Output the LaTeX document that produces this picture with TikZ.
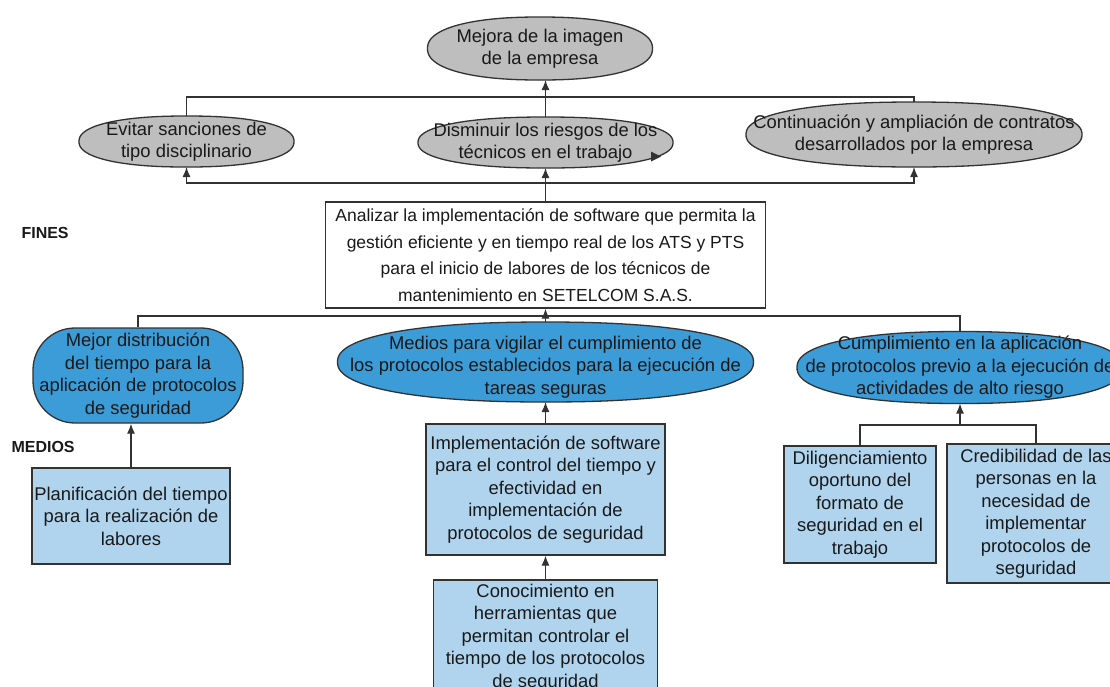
\documentclass[tikz,border=0pt]{standalone}
\usepackage{fontspec}
\setmainfont{Liberation Sans}
\usepackage{tikz}
\usetikzlibrary{arrows.meta}

\definecolor{borde}{RGB}{50,50,50}
\definecolor{tinta}{RGB}{25,25,25}
\definecolor{gris}{RGB}{190,190,190}
\definecolor{azul}{RGB}{60,156,216}
\definecolor{celeste}{RGB}{176,212,238}

% ovalo achatado: centro x, centro y, semiancho, semialto, relleno
\newcommand{\ovalo}[5]{%
  \filldraw[fill=#5,draw=borde,line width=1.3pt]
    plot[domain=0.5:360.5,samples=121]
    ({#1+#3*sign(cos(\x))*abs(cos(\x))^0.88},{#2+#4*sign(sin(\x))*abs(sin(\x))^0.88}) -- cycle;}

\tikzset{
  texto/.style={align=center,text=tinta,font=\fontsize{18.4}{22.5}\selectfont},
  hueco/.style={inner sep=0pt,outer sep=0pt},
  causa/.style={rectangle,draw=borde,fill=celeste,line width=1.3pt,texto,inner sep=2pt},
  union/.style={draw=borde,line width=1.3pt},
  flecha/.style={union,-{Latex[length=10pt,width=8pt]}},
  titulo/.style={anchor=west,text=tinta,font=\bfseries\fontsize{16}{18}\selectfont}
}

\begin{document}
\begin{tikzpicture}[x=1pt,y=-1pt]
  \fill[white] (0,0) rectangle (1110,686);
  \clip (0,0) rectangle (1110,686);

  % fines
  \ovalo{540}{48.5}{112.5}{31.5}{gris}
  \node[hueco,minimum width=225pt,minimum height=63pt,
    label={[texto]center:Mejora de la imagen\\de la empresa}] (mejora) at (540,48.5) {};
  \ovalo{186.5}{141.5}{107.5}{25.5}{gris}
  \node[hueco,minimum width=215pt,minimum height=51pt,
    label={[texto]center:Evitar sanciones de\\tipo disciplinario}] (evitar) at (186.5,141.5) {};
  \ovalo{545.5}{142.5}{127.5}{25.5}{gris}
  \node[hueco,minimum width=255pt,minimum height=51pt,
    label={[texto]center:Disminuir los riesgos de los\\técnicos en el trabajo}] (dism) at (545.5,142.5) {};
  \ovalo{914}{134.5}{168}{32.5}{gris}
  \node[hueco,minimum width=336pt,minimum height=65pt,
    label={[texto]center:Continuación y ampliación de contratos\\desarrollados por la empresa}] (cont) at (914,134.5) {};
  \fill[borde] (651,151.5) -- (661,156.5) -- (651,161.5) -- cycle;

  \node[titulo] (fines) at (18,233) {FINES};

  % problema central
  \node[draw=borde,fill=white,line width=1.3pt,texto,font=\fontsize{17.5}{26.5}\selectfont,
    minimum width=440pt,minimum height=106pt] (analisis) at (545.5,255)
    {Analizar la implementación de software que permita la\\gestión eficiente y en tiempo real de los ATS y PTS\\para el inicio de labores de los técnicos de\\mantenimiento en SETELCOM S.A.S.};

  % medios
  \node[draw=borde,fill=azul,line width=1.3pt,rounded corners=42pt,texto,
    minimum width=210pt,minimum height=95pt] (mejor) at (138,375.5)
    {Mejor distribución\\del tiempo para la\\aplicación de protocolos\\de seguridad};
  \ovalo{545.5}{362}{208}{40}{azul}
  \node[hueco,minimum width=416pt,minimum height=80pt,
    label={[texto,yshift=-5pt]center:Medios para vigilar el cumplimiento de\\los protocolos establecidos para la ejecución de\\tareas seguras}] (medios) at (545.5,362) {};
  \ovalo{960}{367.5}{163}{36}{azul}
  \node[hueco,minimum width=326pt,minimum height=72pt,
    label={[texto]center:Cumplimiento en la aplicación\\de protocolos previo a la ejecución de\\actividades de alto riesgo}] (cump) at (960,367.5) {};

  \node[titulo] (medtit) at (8,447) {MEDIOS};

  \node[causa,minimum width=198pt,minimum height=96pt] (plan) at (131,516)
    {Planificación del tiempo\\para la realización de\\labores};
  \node[causa,minimum width=239pt,minimum height=131pt] (impl) at (545.5,489.5)
    {Implementación de software\\para el control del tiempo y\\efectividad en\\implementación de\\protocolos de seguridad};
  \node[causa,minimum width=224pt,minimum height=115pt] (cono) at (545.5,637.5)
    {Conocimiento en\\herramientas que\\permitan controlar el\\tiempo de los protocolos\\de seguridad};
  \node[causa,minimum width=152pt,minimum height=117pt] (dili) at (860,504.5)
    {Diligenciamiento\\oportuno del\\formato de\\seguridad en el\\trabajo};
  \node[causa,minimum width=178pt,minimum height=139pt] (cred) at (1036,513.5)
    {Credibilidad de las\\personas en la\\necesidad de\\implementar\\protocolos de\\seguridad};

  % conectores de arriba
  \coordinate (sup) at (545.5,97);
  \coordinate (inf) at (545.5,183);
  \draw[flecha] (dism.north) -- (dism.north |- mejora.south);
  \draw[union] (evitar.north) |- (sup) -| (cont.north);
  \draw[flecha] (analisis.north) -- (dism.south);
  \draw[flecha] (inf) -| (evitar.south);
  \draw[flecha] (inf) -| (cont.south);

  % conectores de abajo
  \coordinate (med) at (545.5,316);
  \coordinate (cmp) at (960,425);
  \draw[flecha] (medios.north) -- (analisis.south);
  \draw[union] (mejor.north) |- (med) -| (cump.north);
  \draw[flecha] (plan.north) -- (plan.north |- mejor.south);
  \draw[flecha] (impl.north) -- (medios.south);
  \draw[flecha] (cono.north) -- (impl.south);
  \draw[flecha] (cmp) -- (cump.south);
  \draw[union] (dili.north) |- (cmp) -| (cred.north);
\end{tikzpicture}
\end{document}
